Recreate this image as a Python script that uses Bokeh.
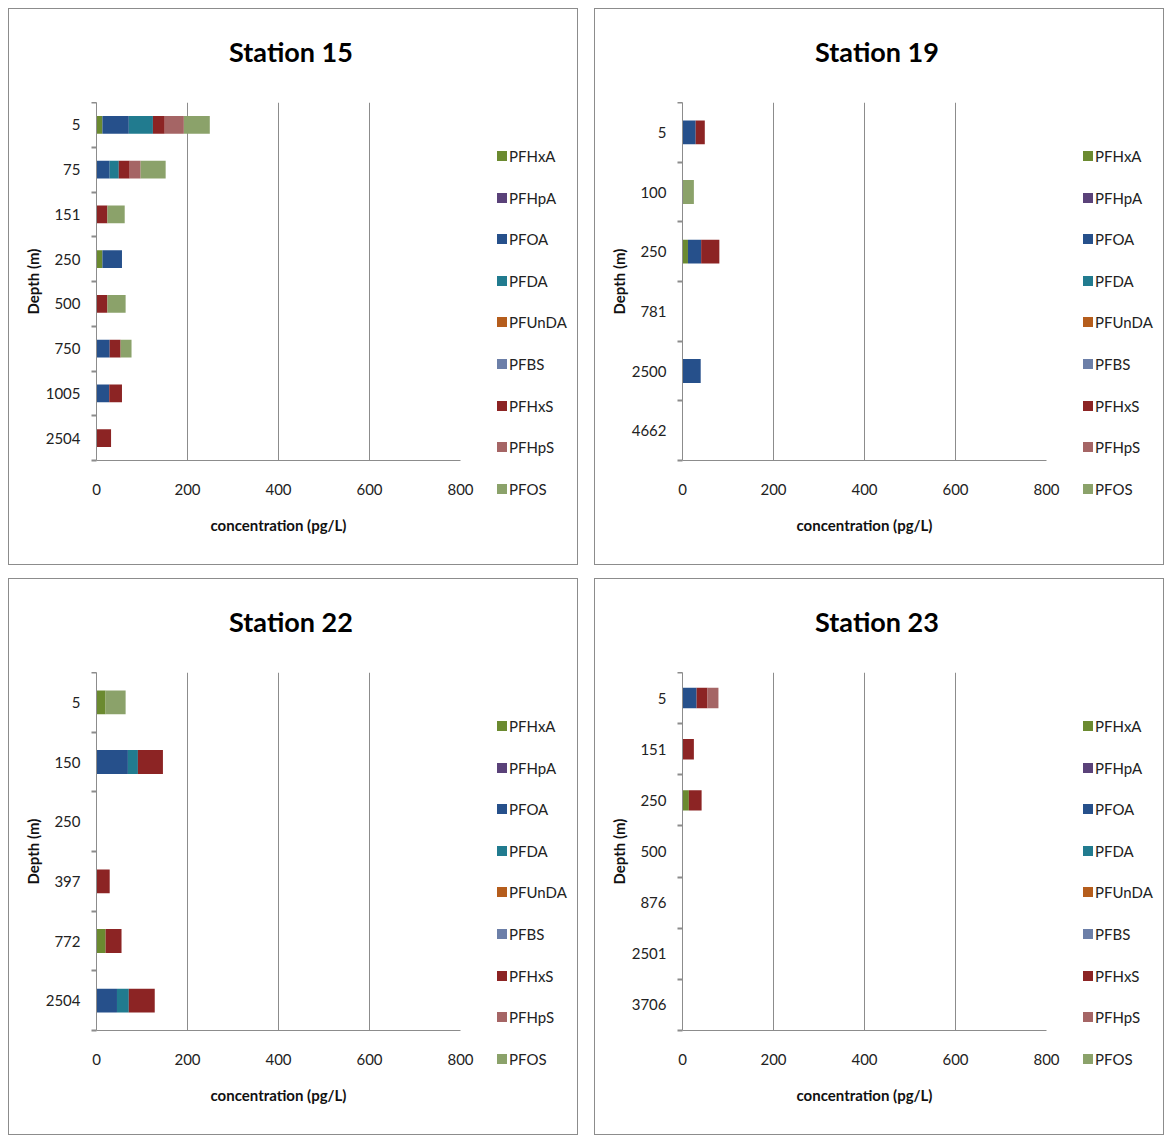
from bokeh.plotting import figure
from bokeh.models import Range1d, FixedTicker, ColumnDataSource, Div
from bokeh.layouts import column, row
from bokeh.embed import file_html
from bokeh.resources import INLINE

SERIES = ["PFHxA", "PFHpA", "PFOA", "PFDA", "PFUnDA", "PFBS", "PFHxS", "PFHpS", "PFOS"]
COLORS = ["#6B8A30", "#5A4279", "#26508B", "#217B8F", "#B55D1C", "#6C7FA8", "#8C2424", "#A56565", "#8BA26A"]
X_TICKS = [0, 200, 400, 600, 800]

# Station 15
st15_depths = ["5", "75", "151", "250", "500", "750", "1005", "2504"]
st15 = {
    "PFHxA":  [13, 0, 0, 13, 0, 0, 0, 0],
    "PFHpA":  [0, 0, 0, 0, 0, 0, 0, 0],
    "PFOA":   [58, 29, 0, 43, 0, 29, 28, 0],
    "PFDA":   [53, 20, 0, 0, 0, 0, 0, 0],
    "PFUnDA": [0, 0, 0, 0, 0, 0, 0, 0],
    "PFBS":   [0, 0, 0, 0, 0, 0, 0, 0],
    "PFHxS":  [26, 24, 24, 0, 24, 24, 28, 32],
    "PFHpS":  [42, 24, 0, 0, 0, 0, 0, 0],
    "PFOS":   [57, 55, 38, 0, 40, 24, 0, 0],
}

# Station 19
st19_depths = ["5", "100", "250", "781", "2500", "4662"]
st19 = {
    "PFHxA":  [0, 0, 12, 0, 0, 0],
    "PFHpA":  [0, 0, 0, 0, 0, 0],
    "PFOA":   [29, 0, 29, 0, 40, 0],
    "PFDA":   [0, 0, 0, 0, 0, 0],
    "PFUnDA": [0, 0, 0, 0, 0, 0],
    "PFBS":   [0, 0, 0, 0, 0, 0],
    "PFHxS":  [20, 0, 40, 0, 0, 0],
    "PFHpS":  [0, 0, 0, 0, 0, 0],
    "PFOS":   [0, 25, 0, 0, 0, 0],
}

# Station 22
st22_depths = ["5", "150", "250", "397", "772", "2504"]
st22 = {
    "PFHxA":  [20, 0, 0, 0, 20, 0],
    "PFHpA":  [0, 0, 0, 0, 0, 0],
    "PFOA":   [0, 69, 0, 0, 0, 45],
    "PFDA":   [0, 22, 0, 0, 0, 26],
    "PFUnDA": [0, 0, 0, 0, 0, 0],
    "PFBS":   [0, 0, 0, 0, 0, 0],
    "PFHxS":  [0, 55, 0, 29, 35, 57],
    "PFHpS":  [0, 0, 0, 0, 0, 0],
    "PFOS":   [44, 0, 0, 0, 0, 0],
}

# Station 23
st23_depths = ["5", "151", "250", "500", "876", "2501", "3706"]
st23 = {
    "PFHxA":  [0, 0, 14, 0, 0, 0, 0],
    "PFHpA":  [0, 0, 0, 0, 0, 0, 0],
    "PFOA":   [31, 0, 0, 0, 0, 0, 0],
    "PFDA":   [0, 0, 0, 0, 0, 0, 0],
    "PFUnDA": [0, 0, 0, 0, 0, 0, 0],
    "PFBS":   [0, 0, 0, 0, 0, 0, 0],
    "PFHxS":  [24, 25, 28, 0, 0, 0, 0],
    "PFHpS":  [24, 0, 0, 0, 0, 0, 0],
    "PFOS":   [0, 0, 0, 0, 0, 0, 0],
}

FONT = "Lato"
AXIS_GRAY = "#8C8C8C"
BORDER = "1px solid #8C8C8C"

TITLE_H = 93
CHART_W = 472
LEG_W = 96
INNER_H = 555


def title_div(text):
    html = ('<div style="position:relative;width:568px;height:%dpx;">'
            '<div style="position:absolute;left:0;top:25px;width:564px;text-align:center;'
            'font-family:Lato;font-weight:bold;font-size:27px;line-height:36px;color:#000;">%s</div>'
            '</div>') % (TITLE_H, text)
    return Div(text=html, width=568, height=TITLE_H, margin=(0, 0, 0, 0))


def legend_div():
    parts = ['<div style="position:relative;width:%dpx;height:%dpx;">' % (LEG_W, INNER_H - TITLE_H)]
    for k, (s, c) in enumerate(zip(SERIES, COLORS)):
        cy = 54 + 41.6 * k
        parts.append('<div style="position:absolute;left:16px;top:%.1fpx;width:10px;height:10px;'
                     'background:%s;"></div>' % (cy - 5, c))
        parts.append('<div style="position:absolute;left:28px;top:%.1fpx;font-family:Lato;'
                     'font-size:15px;line-height:20px;color:#222;white-space:nowrap;">%s</div>' % (cy - 10, s))
    parts.append('</div>')
    return Div(text="".join(parts), width=LEG_W, height=INNER_H - TITLE_H, margin=(0, 0, 0, 0))


def make_panel(title, depths, data):
    n = len(depths)
    centers = [i + 0.5 for i in range(n)]
    bounds = [float(i) for i in range(n + 1)]
    src = dict(y=centers)
    for s in SERIES:
        src[s] = data[s]
    source = ColumnDataSource(src)

    p = figure(width=CHART_W, height=INNER_H - TITLE_H, output_backend="svg", toolbar_location=None,
               x_range=Range1d(0, 800), y_range=Range1d(n, 0), title=None,
               min_border_left=87, min_border_right=21, min_border_top=0, min_border_bottom=104,
               margin=(0, 0, 0, 0))
    p.outline_line_color = None

    p.hbar_stack(SERIES, y="y", height=0.4, fill_color=COLORS, line_color=None, source=source)

    # x axis
    xa = p.xaxis[0]
    xa.ticker = FixedTicker(ticks=X_TICKS)
    xa.axis_line_color = AXIS_GRAY
    xa.major_tick_line_color = None
    xa.minor_tick_line_color = None
    xa.major_label_standoff = 17
    xa.major_label_text_font = FONT
    xa.major_label_text_font_size = "15px"
    xa.major_label_text_color = "#222222"
    xa.axis_label = "concentration (pg/L)"
    xa.axis_label_text_font = FONT
    xa.axis_label_text_font_size = "15px"
    xa.axis_label_text_font_style = "bold"
    xa.axis_label_text_color = "#111111"
    xa.axis_label_standoff = 18

    # y axis
    ya = p.yaxis[0]
    ya.ticker = FixedTicker(ticks=centers, minor_ticks=bounds)
    ya.major_label_overrides = {c: d for c, d in zip(centers, depths)}
    ya.axis_line_color = AXIS_GRAY
    ya.major_tick_line_color = None
    ya.major_tick_out = 0
    ya.minor_tick_line_color = AXIS_GRAY
    ya.minor_tick_out = 5
    ya.minor_tick_in = 0
    ya.minor_tick_line_width = 2
    ya.major_label_standoff = 11
    ya.major_label_text_font = FONT
    ya.major_label_text_font_size = "15px"
    ya.major_label_text_color = "#222222"
    ya.axis_label = "Depth (m)"
    ya.axis_label_text_font = FONT
    ya.axis_label_text_font_size = "15px"
    ya.axis_label_text_font_style = "bold"
    ya.axis_label_text_color = "#111111"
    ya.axis_label_standoff = 1

    p.xgrid.ticker = FixedTicker(ticks=X_TICKS)
    p.xgrid.grid_line_color = AXIS_GRAY
    p.ygrid.grid_line_color = None

    body = row(p, legend_div(), spacing=0, margin=(0, 0, 0, 0))
    return column(title_div(title), body, spacing=0, styles={"border": BORDER})


p15 = make_panel("Station 15", st15_depths, st15)
p19 = make_panel("Station 19", st19_depths, st19)
p22 = make_panel("Station 22", st22_depths, st22)
p23 = make_panel("Station 23", st23_depths, st23)

layout = column(row(p15, p19, spacing=16), row(p22, p23, spacing=16), spacing=13,
                margin=(8, 0, 0, 8))

open("out.html", "w").write(file_html(layout, INLINE))
